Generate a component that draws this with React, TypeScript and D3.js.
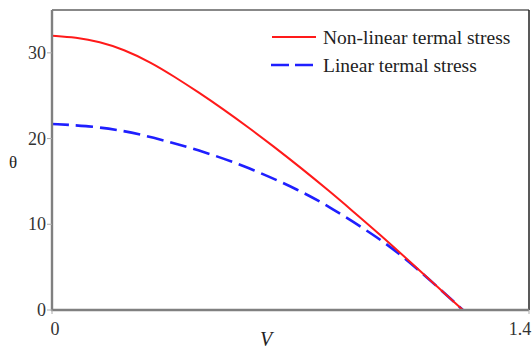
import React from "react";
import * as d3 from "d3";

// values
const vNonLinear = [0, 0.07, 0.14, 0.21, 0.29, 0.36, 0.43, 0.5, 0.58, 0.65, 0.73, 0.816, 0.875, 0.96, 1.06, 1.206];
const thetaNonLinear = [32, 31.8, 31.3, 30.4, 28.9, 27.2, 25.4, 23.5, 21.2, 19.1, 16.6, 13.8, 11.8, 8.9, 5.3, 0];

const vLinear = [0, 0.1, 0.2, 0.29, 0.43, 0.58, 0.73, 0.816, 0.96, 1.06, 1.206];
const thetaLinear = [21.7, 21.5, 21.0, 20.2, 18.7, 16.6, 13.9, 12.0, 8.4, 5.3, 0];

const yTicks = [0, 10, 20, 30];
const xTicks = [0, 1.4];
const legendLabels = ["Non-linear termal stress", "Linear termal stress"];

const width = 532;
const height = 351;
const margin = { top: 10, right: 3, bottom: 41, left: 52 };
const font = "'Liberation Serif', 'Times New Roman', serif";

const App = () => {
  const x = d3.scaleLinear().domain([0, 1.4]).range([margin.left, width - margin.right]);
  const y = d3.scaleLinear().domain([0, 35]).range([height - margin.bottom, margin.top]);

  const line = d3
    .line<[number, number]>()
    .x((d) => x(d[0]))
    .y((d) => y(d[1]))
    .curve(d3.curveBasis);

  const red = line(vNonLinear.map((v, i) => [v, thetaNonLinear[i]]));
  const blue = line(vLinear.map((v, i) => [v, thetaLinear[i]]));

  const x0 = x(0);
  const x1 = x(1.4);
  const y0 = y(0);
  const yTop = y(35);

  return (
    <svg width={width} height={height} style={{ position: "absolute", left: 0, top: 0, background: "#fff" }}>
      {/* frame */}
      <line x1={x0} y1={yTop} x2={x1} y2={yTop} stroke="#888" strokeWidth={2} />
      <line x1={x1} y1={yTop} x2={x1} y2={y0} stroke="#222" strokeWidth={1.5} />

      {/* curves */}
      <path d={blue ?? ""} fill="none" stroke="#1f1fff" strokeWidth={2.6} strokeDasharray="17,7" />
      <path d={red ?? ""} fill="none" stroke="#ff1a1a" strokeWidth={2} />

      {/* axes */}
      <line x1={x0} y1={yTop} x2={x0} y2={y0 + 1} stroke="#808080" strokeWidth={2.4} />
      <line x1={x0 - 1} y1={y0} x2={x1} y2={y0} stroke="#808080" strokeWidth={2.4} />

      {yTicks.map((t) => (
        <g key={t}>
          <line x1={x0 - 5} x2={x0} y1={y(t)} y2={y(t)} stroke="#aaa" strokeWidth={1} />
          <text
            x={x0 - 6}
            y={y(t) + 6}
            textAnchor="end"
            fontFamily={font}
            fontSize={18}
            fill="#333"
          >
            {t}
          </text>
        </g>
      ))}
      {xTicks.map((t) => (
        <g key={t}>
          <line x1={x(t)} x2={x(t)} y1={y0} y2={y0 + 4} stroke="#aaa" strokeWidth={1} />
          <text
            x={t === 0 ? x(t) + 3 : x(t) - 9}
            y={y0 + 25}
            textAnchor="middle"
            fontFamily={font}
            fontSize={18}
            fill="#333"
          >
            {t === 0 ? "0" : "1.4"}
          </text>
        </g>
      ))}

      {/* axis titles */}
      <text x={266} y={346} textAnchor="middle" fontFamily={font} fontStyle="italic" fontSize={20} fill="#222">
        V
      </text>
      <text x={13} y={168} textAnchor="middle" fontFamily={font} fontSize={17} fill="#222">
        θ
      </text>

      {/* legend */}
      <line x1={272} x2={316} y1={37} y2={37} stroke="#ff1a1a" strokeWidth={2} />
      <text x={323} y={44} fontFamily={font} fontSize={19.5} fill="#222">
        {legendLabels[0]}
      </text>
      <line x1={271} x2={316} y1={65} y2={65} stroke="#1f1fff" strokeWidth={2.6} strokeDasharray="18,6" />
      <text x={323} y={72} fontFamily={font} fontSize={19.5} fill="#222">
        {legendLabels[1]}
      </text>
    </svg>
  );
};

export default App;
